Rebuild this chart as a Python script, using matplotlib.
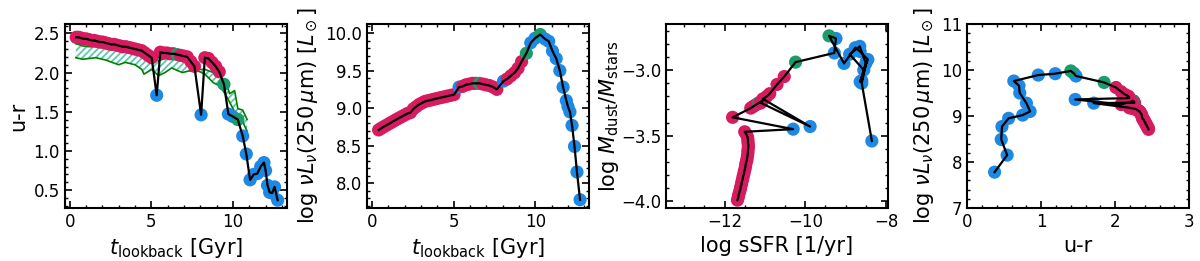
import matplotlib
matplotlib.use("Agg")
import matplotlib.pyplot as plt
import numpy as np
from matplotlib.ticker import AutoMinorLocator

# snapshot lookback times [Gyr]
t_lb = [0.40, 0.55, 0.70, 0.86, 1.02, 1.18, 1.34, 1.50, 1.67, 1.84, 2.01, 2.18, 2.35, 2.53,
        2.71, 2.89, 3.07, 3.25, 3.44, 3.63, 3.82, 4.01, 4.21, 4.41, 4.61, 4.81, 5.02,
        5.33,
        5.55, 5.74, 5.95, 6.15, 6.36, 6.57, 6.78, 6.99, 7.20, 7.42, 7.64,
        8.05,
        8.28, 8.50, 8.72, 8.94, 9.16,
        9.45, 9.72, 9.98, 10.30, 10.60, 10.82, 11.05, 11.28, 11.50, 11.70, 11.90,
        12.00, 12.12, 12.25, 12.40, 12.55, 12.74]

# R = quenched, G = green valley, B = star forming
state = (["R"] * 27 + ["B"] + ["R"] * 5 + ["G"] + ["R"] * 5 + ["B"] + ["R"] * 5
         + ["G", "B", "B", "G"] + ["B"] * 13)

u_r = [2.45, 2.45, 2.44, 2.43, 2.43, 2.42, 2.41, 2.41, 2.40, 2.39, 2.39, 2.38, 2.37, 2.36,
       2.36, 2.35, 2.34, 2.33, 2.33, 2.32, 2.31, 2.30, 2.29, 2.28, 2.25, 2.22, 2.19,
       1.71,
       2.26, 2.25, 2.25, 2.24, 2.24, 2.23, 2.22, 2.21, 2.20, 2.14, 2.08,
       1.46,
       2.19, 2.18, 2.13, 2.08, 2.01,
       1.85, 1.47, 1.44, 1.40, 1.19, 0.96, 0.63, 0.70, 0.71, 0.80, 0.85,
       0.75, 0.56, 0.47, 0.46, 0.54, 0.37]

log_L250 = [8.71, 8.73, 8.75, 8.77, 8.79, 8.81, 8.83, 8.85, 8.87, 8.89, 8.91, 8.93, 8.94, 8.99,
            9.02, 9.05, 9.07, 9.09, 9.10, 9.11, 9.12, 9.13, 9.14, 9.15, 9.16, 9.17, 9.18,
            9.28,
            9.29, 9.31, 9.32, 9.33, 9.33, 9.33, 9.32, 9.31, 9.30, 9.28, 9.25,
            9.36,
            9.39, 9.43, 9.47, 9.53, 9.62,
            9.73, 9.87, 9.93, 9.98, 9.92, 9.89, 9.76, 9.66, 9.50, 9.28, 9.10,
            9.02, 8.95, 8.77, 8.49, 8.15, 7.78]

log_ssfr = [-11.68, -11.66, -11.65, -11.63, -11.61, -11.60, -11.58, -11.57, -11.55, -11.54,
            -11.52, -11.51, -11.49, -11.48, -11.47, -11.45, -11.44, -11.43, -11.42, -11.42,
            -11.41, -11.41, -11.42, -11.42, -11.43, -11.46, -11.50,
            -10.30,
            -11.80, -11.35, -11.30, -11.25, -11.20, -11.15, -11.12, -11.10, -11.08, -11.05, -11.10,
            -9.88,
            -11.05, -10.95, -10.88, -10.70, -10.52,
            -10.24, -9.28, -9.24, -9.41, -9.04, -8.76, -8.64, -8.45, -8.64, -8.50, -8.65,
            -8.90, -8.55, -8.60, -8.48, -8.60, -8.35]

log_dust_ratio = [-3.99, -3.97, -3.95, -3.93, -3.91, -3.89, -3.87, -3.85, -3.83, -3.81,
                  -3.79, -3.77, -3.75, -3.73, -3.71, -3.69, -3.67, -3.65, -3.63, -3.61,
                  -3.59, -3.57, -3.55, -3.53, -3.51, -3.49, -3.47,
                  -3.45,
                  -3.36, -3.29, -3.28, -3.27, -3.26, -3.25, -3.25, -3.24, -3.24, -3.23, -3.25,
                  -3.43,
                  -3.22, -3.20, -3.18, -3.11, -3.05,
                  -2.94, -2.87, -2.76, -2.74, -2.95, -2.83, -2.86, -2.92, -3.09, -2.95, -2.82,
                  -2.88, -3.00, -3.08, -2.93, -3.10, -3.54]

# green valley boundaries in u-r
gv_t = [0.37, 0.80, 1.20, 1.60, 2.20, 2.60, 3.00, 3.40, 4.00, 4.42, 4.55, 5.03, 5.44, 5.84,
        6.25, 6.55, 6.90, 7.30, 7.87, 8.28, 8.80, 9.20, 9.60, 9.80, 10.10, 10.30, 10.60, 10.87]
gv_upper = [2.37, 2.34, 2.33, 2.33, 2.31, 2.30, 2.30, 2.29, 2.28, 2.26, 2.25, 2.21, 2.15, 2.18,
            2.20, 2.27, 2.17, 2.12, 2.04, 2.04, 2.00, 1.95, 1.85, 1.73, 1.77, 1.54, 1.52, 1.40]
gv_lower = [2.19, 2.17, 2.18, 2.19, 2.16, 2.13, 2.10, 2.13, 2.10, 2.04, 1.98, 2.04, 1.96, 2.00,
            2.06, 2.03, 2.00, 2.02, 2.02, 1.98, 1.87, 1.83, 1.70, 1.62, 1.50, 1.45, 1.37, 1.25]

colors = {"R": "#d81b60", "G": "#1a9c6c", "B": "#1e88e5"}
point_colors = [colors[s] for s in state]

plt.rcParams["font.size"] = 12
plt.rcParams["mathtext.fontset"] = "dejavusans"
plt.rcParams["hatch.linewidth"] = 1.3

fig = plt.figure(figsize=(12, 2.61), dpi=100)
w, h, b = 0.185, 0.705, 0.203
lefts = [0.054, 0.306, 0.555, 0.806]
axes = [fig.add_axes([l, b, w, h]) for l in lefts]

lum_label = r"log $\nu L_\nu(250\,\mu{\rm m})$ $[L_\odot]$"


def track(ax, x, y):
    ax.scatter(x, y, c=point_colors, s=90, zorder=2, linewidths=0)
    ax.plot(x, y, color="black", lw=1.6, zorder=3)


# panel 1: colour vs lookback time
ax = axes[0]
ax.fill_between(gv_t, gv_lower, gv_upper, facecolor="none", edgecolor="#5cc9ae",
                hatch="/////", linewidth=0, zorder=1)
ax.plot(gv_t, gv_upper, color="green", lw=1.2, zorder=1)
ax.plot(gv_t, gv_lower, color="green", lw=1.2, zorder=1)
track(ax, t_lb, u_r)
ax.set_xlim(-0.3, 13.3)
ax.set_ylim(0.27, 2.62)
ax.set_xticks([0, 5, 10])
ax.set_yticks([0.5, 1.0, 1.5, 2.0, 2.5])
ax.set_xlabel(r"$t_{\rm lookback}$ [Gyr]", fontsize=15)
ax.set_ylabel("u-r", fontsize=15)

# panel 2: 250 micron luminosity vs lookback time
ax = axes[1]
track(ax, t_lb, log_L250)
ax.set_xlim(-0.3, 13.3)
ax.set_ylim(7.67, 10.12)
ax.set_xticks([0, 5, 10])
ax.set_yticks([8.0, 8.5, 9.0, 9.5, 10.0])
ax.set_xlabel(r"$t_{\rm lookback}$ [Gyr]", fontsize=15)
ax.set_ylabel(lum_label, fontsize=15)

# panel 3: dust-to-stellar mass vs sSFR
ax = axes[2]
track(ax, log_ssfr, log_dust_ratio)
ax.set_xlim(-13.45, -7.95)
ax.set_ylim(-4.05, -2.65)
ax.set_xticks([-12, -10, -8])
ax.set_yticks([-4.0, -3.5, -3.0])
ax.set_xlabel("log sSFR [1/yr]", fontsize=15)
ax.set_ylabel(r"log $M_{\rm dust}/M_{\rm stars}$", fontsize=15, labelpad=0)

# panel 4: 250 micron luminosity vs colour
ax = axes[3]
track(ax, u_r, log_L250)
ax.set_xlim(0, 3)
ax.set_ylim(7, 11)
ax.set_xticks([0, 1, 2, 3])
ax.set_yticks([7, 8, 9, 10, 11])
ax.set_xlabel("u-r", fontsize=15)
ax.set_ylabel(lum_label, fontsize=15)

for ax in axes:
    ax.xaxis.set_minor_locator(AutoMinorLocator())
    ax.yaxis.set_minor_locator(AutoMinorLocator())
    ax.tick_params(which="both", direction="in", top=True, right=True, labelsize=12)
    ax.tick_params(which="major", length=5, width=1.2)
    ax.tick_params(which="minor", length=2.5, width=1)
    for sp in ax.spines.values():
        sp.set_linewidth(1.5)

fig.savefig("out.png", dpi=100)
